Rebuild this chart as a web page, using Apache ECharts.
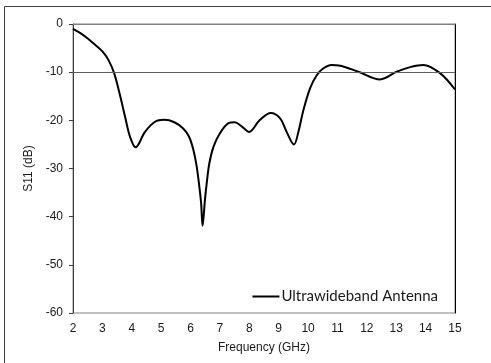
<!DOCTYPE html>
<html><head><meta charset="utf-8">
<script src="https://cdn.jsdelivr.net/npm/echarts@6/dist/echarts.min.js"></script>
<style>html,body{margin:0;padding:0;background:#fff}#c{width:491px;height:363px}</style>
</head><body><div id="c"></div>
<script>
var freq = [2, 2.25, 2.5, 2.75, 3.0, 3.2, 3.4, 3.6, 3.77, 3.94, 4.13, 4.45, 4.79, 5.1, 5.45, 5.75, 5.95, 6.1, 6.21, 6.3, 6.36, 6.41, 6.49, 6.55, 6.64, 6.78, 7.0, 7.29, 7.5, 7.75, 7.99, 8.35, 8.73, 9.05, 9.27, 9.52, 9.67, 9.84, 10.07, 10.29, 10.5, 10.8, 11.05, 11.71, 12.45, 13.02, 13.5, 13.92, 14.49, 15];
var s11 = [-1, -1.9, -3.0, -4.3, -5.7, -7.4, -10.2, -14.8, -19.2, -23.4, -25.6, -22.4, -20.3, -19.9, -20.4, -21.7, -23.4, -26.2, -29.6, -33.8, -37.2, -41.9, -36.5, -33.1, -28.9, -25.5, -22.7, -20.6, -20.4, -21.3, -22.4, -20.0, -18.5, -19.6, -22.4, -25.0, -22.4, -17.9, -13.3, -10.7, -9.3, -8.5, -8.6, -9.9, -11.5, -9.9, -8.9, -8.5, -10.2, -13.6];
var threshold = -10;
var seriesName = 'Ultrawideband Antenna';

var data = freq.map(function(f, i){ return [f, s11[i]]; });
var chart = echarts.init(document.getElementById('c'), null, {renderer:'canvas'});
var font = 'Liberation Sans, Arial, sans-serif';
chart.setOption({
  animation: false,
  backgroundColor: '#fff',
  graphic: [{type:'rect', shape:{x:4.5, y:6.5, width:600, height:500}, style:{fill:null, stroke:'#404040', lineWidth:1}, z:-1}],
  grid: {left:73, top:24, width:382, height:289, show:true, borderColor:'#808080', borderWidth:1},
  legend: {right:48, top:284, itemWidth:27, itemHeight:2, icon:'rect', itemGap:0,
    textStyle:{fontFamily:'Lato, "Open Sans", sans-serif', fontSize:15, color:'#1a1a1a', padding:[0,0,0,-3]},
    data:[seriesName]},
  xAxis: {type:'value', min:2, max:15, interval:1,
    name:'Frequency (GHz)', nameLocation:'middle', nameGap:29,
    nameTextStyle:{fontFamily:font, fontSize:12, color:'#1a1a1a'},
    axisLine:{show:true, lineStyle:{color:'#808080', width:1}},
    axisTick:{show:false},
    axisLabel:{fontFamily:font, fontSize:12, color:'#1a1a1a', margin:10},
    splitLine:{show:false}},
  yAxis: [{type:'value', min:-60, max:0, interval:10,
    name:'S11 (dB)', nameLocation:'middle', nameGap:26,
    nameTextStyle:{fontFamily:font, fontSize:12, color:'#1a1a1a'},
    axisLine:{show:true, lineStyle:{color:'#404040', width:1}},
    axisTick:{show:true, length:4, lineStyle:{color:'#404040'}},
    axisLabel:{fontFamily:font, fontSize:12, color:'#1a1a1a', margin:10},
    splitLine:{show:false}},
   {type:'value', min:-60, max:0, position:'right',
    axisLine:{show:true, lineStyle:{color:'#000', width:1}},
    axisTick:{show:false}, axisLabel:{show:false}, splitLine:{show:false}}],
  series: [{name:seriesName, type:'line', data:data, smooth:0.35, showSymbol:false,
    lineStyle:{color:'#000', width:2}, itemStyle:{color:'#000'},
    markLine:{silent:true, symbol:'none', label:{show:false},
      lineStyle:{color:'#606060', width:1, type:'solid'},
      data:[{yAxis:threshold}]}}]
});
</script></body></html>
